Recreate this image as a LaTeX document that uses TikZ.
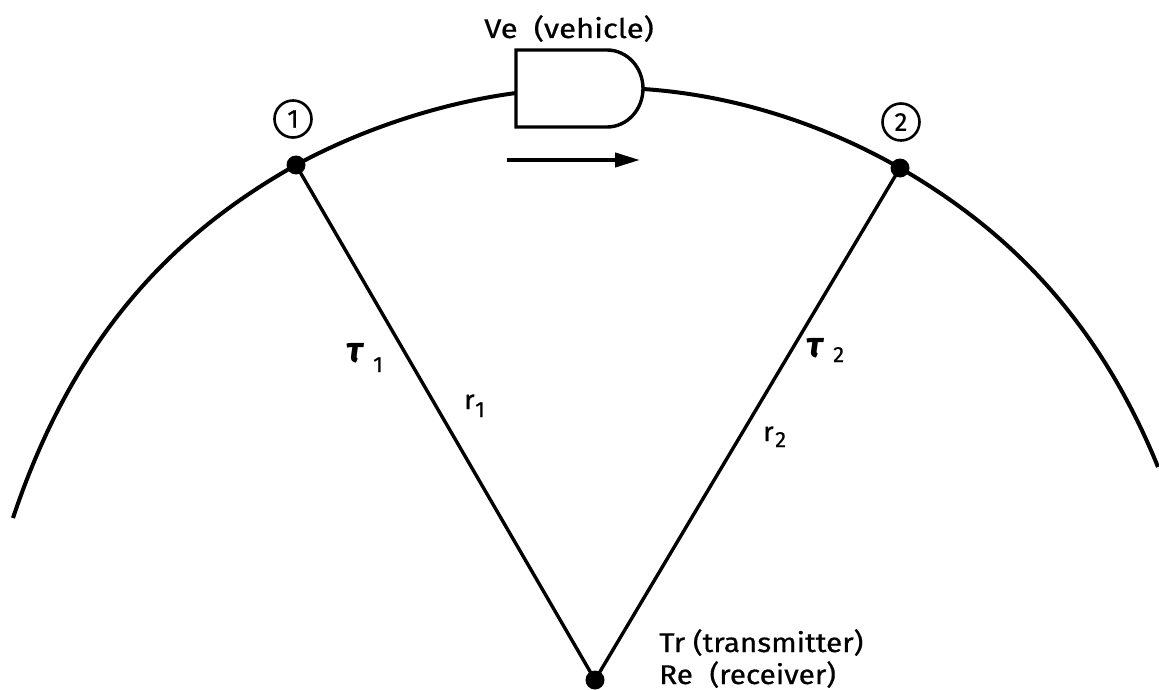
\documentclass[tikz,border=0pt]{standalone}
\usepackage{fontspec}
\setmainfont{Fira Sans}[UprightFeatures={FakeBold=0.6}]
\newfontfamily\taufont{Fira Sans}[BoldFont={Fira Sans Bold},ItalicFeatures={FakeBold=1}]
\usetikzlibrary{arrows.meta}
\newcommand{\trtext}[1]{\scalebox{1.1}[1]{#1}}
\newcommand{\widetext}[1]{\scalebox{1.15}[1]{#1}}
\tikzset{
  dotnode/.style={circle,fill=black,inner sep=0pt,minimum size=19pt},
  lab/.style={inner sep=0pt,font=\fontsize{27}{30}\selectfont,anchor=base west},
  subs/.style={inner sep=0pt,font=\fontsize{22}{26}\selectfont,anchor=base west},
  taulab/.style={inner sep=0pt,font=\fontsize{36}{36}\selectfont\taufont\bfseries\itshape,anchor=base west},
  nump/.style={circle,draw,line width=2.6pt,inner sep=0pt,minimum size=37pt,font=\fontsize{26}{26}\selectfont},
  arcline/.style={line width=4pt},
  ray/.style={line width=3.4pt}
}
\begin{document}
\begin{tikzpicture}[x=1pt,y=-1pt]
\useasboundingbox (0,0) rectangle (1159,690);
\node[dotnode] (p1) at (296,165) {};
\node[dotnode] (p2) at (900,168) {};
\node[dotnode] (tr) at (595,680) {};
\coordinate (al) at (13,518);
\coordinate (ar) at (1158,467);
\coordinate (vl) at (516,93);
\coordinate (vr) at (643,89);
\draw[arcline] (al) .. controls (78,323) and (186,227) .. (p1.center);
\draw[arcline] (p1.center) .. controls (360,130) and (440,103) .. (vl);
\draw[arcline] (vr) .. controls (735,95) and (825,125) .. (p2.center);
\draw[arcline] (p2.center) .. controls (995,223) and (1093,307) .. (ar);
\draw[ray] (p1.center) -- (tr.center);
\draw[ray] (p2.center) -- (tr.center);
\draw[line width=3.4pt,fill=white] (516,50) -- (607,50) arc[start angle=-90,end angle=90,x radius=36,y radius=38.5] -- (516,127) -- cycle;
\coordinate (a1) at (507,160);
\coordinate (a2) at (640,160);
\draw[line width=4pt,-{Stealth[length=25pt,width=14pt,inset=0pt]}] (a1) -- (a2);
\node[lab] (ve) at (484,38) {\widetext{Ve\hspace{7pt} (vehicle)}};
\node[nump] (n1) at (293,119) {1};
\node[nump] (n2) at (901,122) {2};
\node[taulab] (t1) at (346,362) {τ};
\node[subs] (t1s) at (373,372) {1};
\node[taulab] (t2) at (806,357) {τ};
\node[subs] (t2s) at (833,362) {2};
\node[lab] (r1) at (464,409) {r};
\node[subs] (r1s) at (475,417) {1};
\node[lab] (r2) at (763,441) {r};
\node[subs] (r2s) at (775,447) {2};
\node[lab] (l1) at (659,652) {\trtext{Tr (transmitter)}};
\node[lab] (l2) at (659,684) {\trtext{Re\hspace{8pt} (receiver)}};
\end{tikzpicture}
\end{document}
